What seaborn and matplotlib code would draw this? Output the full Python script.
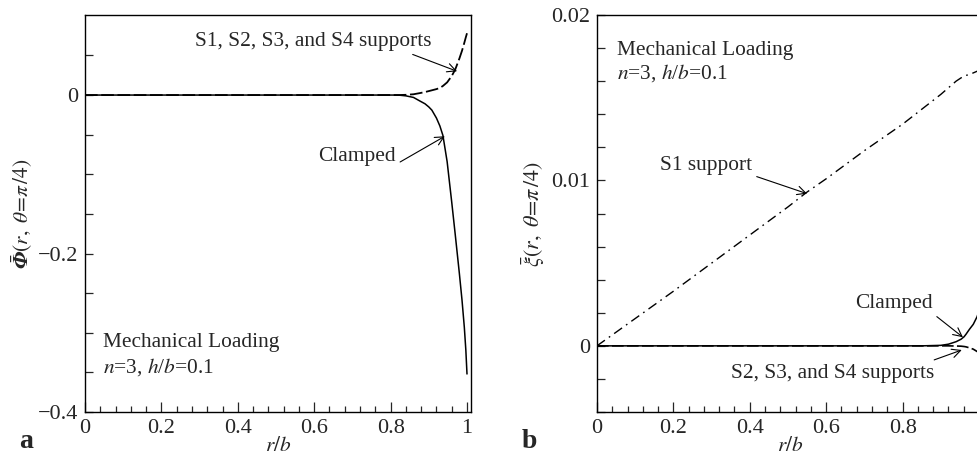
import numpy as np
import pandas as pd
import matplotlib
matplotlib.use("Agg")
import matplotlib.pyplot as plt
import seaborn as sns

# panel a: rotation Phi along theta = pi/4
r_a = [0.0, 0.1, 0.2, 0.3, 0.4, 0.5, 0.6, 0.7, 0.8, 0.82, 0.84, 0.86, 0.877, 0.89, 0.9, 0.908,
       0.92, 0.929, 0.937, 0.948, 0.96, 0.969, 0.98, 0.987, 0.993, 0.997, 1.0]
phi_supports = [0.0, 0.0, 0.0, 0.0, 0.0, 0.0, 0.0, 0.0, 0.0, 0.0, 0.0003, 0.001, 0.0025, 0.0038, 0.005,
                0.006, 0.0075, 0.009, 0.0115, 0.016, 0.024, 0.032, 0.046, 0.056, 0.066, 0.073, 0.078]
phi_clamped = [0.0, 0.0, 0.0, 0.0, 0.0, 0.0, 0.0, 0.0, 0.0, 0.0, -0.001, -0.003, -0.0076, -0.011, -0.015,
               -0.019, -0.029, -0.039, -0.051, -0.084, -0.135, -0.175, -0.225, -0.259, -0.293, -0.322, -0.352]

# panel b: xi along theta = pi/4
r_b = [0.0, 0.1, 0.2, 0.3, 0.4, 0.5, 0.55, 0.6, 0.7, 0.8, 0.85, 0.9, 0.92, 0.94,
       0.953, 0.961, 0.966, 0.975, 0.985, 0.995, 1.0]
xi_s1 = [0.0, 0.00165, 0.0033, 0.0050, 0.0067, 0.0084, 0.0093, 0.0101, 0.0118, 0.0134,
         0.0143, 0.0152, 0.0156, 0.0160, 0.0162, 0.0163, 0.01635, 0.0164, 0.0165, 0.0166, 0.01665]
xi_clamped = [0.0, 0.0, 0.0, 0.0, 0.0, 0.0, 0.0, 0.0, 0.0, 0.0, 0.0, 0.00003, 0.0001, 0.00025,
              0.0004, 0.00055, 0.0007, 0.0010, 0.0013, 0.00176, 0.0021]
xi_supports = [0.0, 0.0, 0.0, 0.0, 0.0, 0.0, 0.0, 0.0, 0.0, 0.0, 0.0, 0.0, 0.0, -0.00001,
               -0.00002, -0.00004, -0.00006, -0.00012, -0.0002, -0.00034, -0.0004]

x_ticks = [0, 0.2, 0.4, 0.6, 0.8, 1.0]
x_labels_a = ["0", "0.2", "0.4", "0.6", "0.8", "1"]
x_labels_b = ["0", "0.2", "0.4", "0.6", "0.8", ""]

sns.set_style("ticks")
plt.rcParams["font.family"] = ["Liberation Serif", "DejaVu Serif"]
plt.rcParams["mathtext.fontset"] = "stix"
plt.rcParams["axes.linewidth"] = 1.0
fs = 15.4
tfs = 16

fig = plt.figure(figsize=(9.78, 4.58), dpi=100)
ax1 = fig.add_axes([0.0869, 0.1004, 0.3947, 0.8668])
ax2 = fig.add_axes([0.6104, 0.1004, 0.3947, 0.8668])

df_a = pd.DataFrame({"r": r_a, "sup": phi_supports, "cl": phi_clamped})
df_b = pd.DataFrame({"r": r_b, "s1": xi_s1, "cl": xi_clamped, "sup": xi_supports})

arrow = dict(arrowstyle="->", color="black", lw=0.8, shrinkA=1, shrinkB=0)

# Plot a
sns.lineplot(data=df_a, x="r", y="cl", ax=ax1, color="black", lw=1.1)
sns.lineplot(data=df_a, x="r", y="sup", ax=ax1, color="black", lw=1.3)
ax1.lines[-1].set_dashes([7, 2])
ax1.set_xlim(0, 1.0105)
ax1.set_ylim(-0.4, 0.101)
ax1.set_xticks(x_ticks)
ax1.set_xticklabels(x_labels_a)
ax1.set_xticks(np.arange(0, 1.01, 0.04), minor=True)
ax1.set_yticks([-0.4, -0.2, 0])
ax1.set_yticklabels(["\u22120.4", "\u22120.2", "0"])
ax1.set_yticks(np.arange(-0.4, 0.1, 0.05), minor=True)
ax1.set_ylabel("$\\bar{\U0001D731}(r,\\ \\theta\\!=\\!\\pi\\,/4)$", fontsize=fs, labelpad=2)
ax1.set_xlabel(r"$r/b$", fontsize=fs, labelpad=-1)
ax1.text(0.047, 0.174, "Mechanical Loading", transform=ax1.transAxes, fontsize=fs, va="center")
ax1.text(0.047, 0.113, r"$n$=3, $h$/$b$=0.1", transform=ax1.transAxes, fontsize=fs, va="center")
ax1.annotate("S1, S2, S3, and S4 supports", xy=(0.974, 0.030), xytext=(0.287, 0.068),
             fontsize=fs, va="center", arrowprops=dict(arrow, relpos=(0.88, 0.0)))
ax1.annotate("Clamped", xy=(0.942, -0.052), xytext=(0.61, -0.077), fontsize=fs, va="center",
             arrowprops=dict(arrow, relpos=(1.02, 0.1)))
fig.text(0.020, 0.022, "a", fontsize=20, fontweight="bold")

# Plot b
sns.lineplot(data=df_b, x="r", y="s1", ax=ax2, color="black", lw=1.0)
ax2.lines[-1].set_dashes([7, 3.5, 1.2, 3.5])
sns.lineplot(data=df_b, x="r", y="cl", ax=ax2, color="black", lw=1.1)
sns.lineplot(data=df_b, x="r", y="sup", ax=ax2, color="black", lw=1.2)
ax2.lines[-1].set_dashes([7, 2])
ax2.set_xlim(0, 1.0105)
ax2.set_ylim(-0.004, 0.02)
ax2.set_xticks(x_ticks)
ax2.set_xticklabels(x_labels_b)
ax2.set_xticks(np.arange(0, 1.01, 0.04), minor=True)
ax2.set_yticks([0, 0.01, 0.02])
ax2.set_yticklabels(["0", "0.01", "0.02"])
ax2.set_yticks(np.arange(-0.004, 0.0201, 0.002), minor=True)
ax2.set_ylabel(r"$\bar{\xi}(r,\ \theta\!=\!\pi\,/4)$", fontsize=fs + 0.5, labelpad=3)
ax2.set_xlabel(r"$r/b$", fontsize=fs, labelpad=-1)
ax2.text(0.052, 0.91, "Mechanical Loading", transform=ax2.transAxes, fontsize=fs, va="center")
ax2.text(0.052, 0.855, r"$n$=3, $h$/$b$=0.1", transform=ax2.transAxes, fontsize=fs, va="center")
ax2.annotate("S1 support", xy=(0.55, 0.0092), xytext=(0.165, 0.0109), fontsize=fs, va="center",
             arrowprops=dict(arrow, relpos=(1.0, 0.0)))
ax2.annotate("Clamped", xy=(0.958, 0.00052), xytext=(0.675, 0.00255), fontsize=fs, va="center",
             arrowprops=dict(arrow, relpos=(1.0, 0.0)))
ax2.annotate("S2, S3, and S4 supports", xy=(0.955, -0.00025), xytext=(0.35, -0.00165),
             fontsize=fs, va="center", arrowprops=dict(arrow, relpos=(0.95, 1.0)))
fig.text(0.533, 0.022, "b", fontsize=20, fontweight="bold")

for ax in (ax1, ax2):
    ax.tick_params(axis="both", which="both", direction="in", top=False, right=False,
                   labelsize=tfs, width=0.9)
    ax.tick_params(axis="x", which="major", length=7, pad=5)
    ax.tick_params(axis="x", which="minor", length=4)
    ax.tick_params(axis="y", which="both", length=6, pad=5)
    ax.set_facecolor("white")
    for s in ax.spines.values():
        s.set_visible(True)
        s.set_color("black")

fig.savefig("out.png", dpi=100, facecolor="white")
